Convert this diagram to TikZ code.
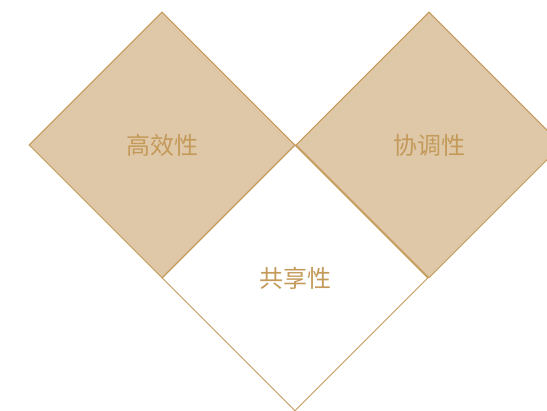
\documentclass[tikz,border=0pt]{standalone}
\usepackage{fontspec}
\newfontfamily\cjk{Noto Sans CJK SC}
\usetikzlibrary{shapes.geometric}
\definecolor{sand}{HTML}{DFC8A8}
\definecolor{bronze}{HTML}{C49A5A}
\begin{document}
\begin{tikzpicture}[x=1pt,y=-1pt]
\tikzstyle{facet}=[diamond,aspect=1,minimum width=266pt,minimum height=266pt,inner sep=0pt,draw=bronze,line width=1pt,text=bronze,font=\cjk\fontsize{24}{29}\selectfont]
\useasboundingbox (0,0) rectangle (547,411);
\clip (0,0) rectangle (547,411);
\node[facet,fill=white](S) at (295,278) {共享性};
\node[facet,fill=sand](C) at (429,145) {协调性};
\node[facet,fill=sand](E) at (162,145) {高效性};
\end{tikzpicture}
\end{document}
